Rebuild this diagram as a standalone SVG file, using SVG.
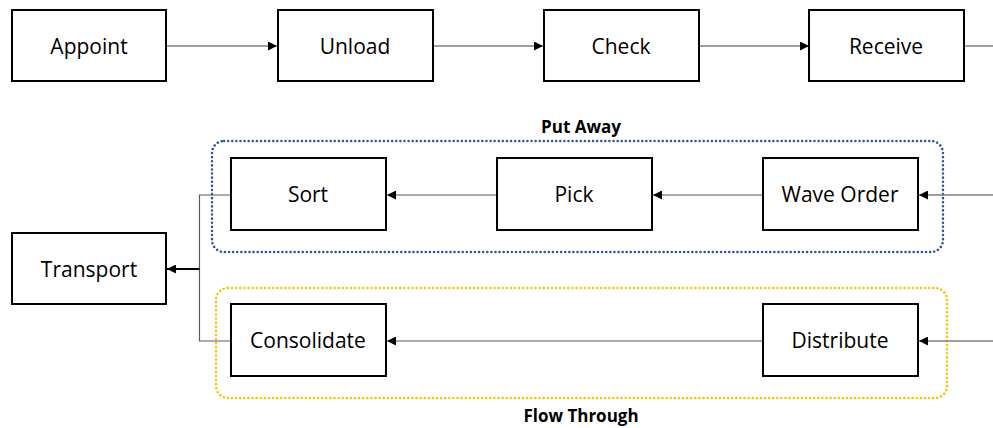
<svg xmlns="http://www.w3.org/2000/svg" width="993" height="428" viewBox="0 0 993 428">
  <style>
    .box { fill: #ffffff; stroke: #000000; stroke-width: 2; }
    .lbl { font-family: "Open Sans", "Noto Sans", sans-serif; font-size: 21px; fill: #000000; text-anchor: middle; dominant-baseline: central; }
    .title { font-family: "Open Sans", "Noto Sans", sans-serif; font-size: 17px; font-weight: bold; fill: #000000; text-anchor: middle; }
    .link { fill: none; stroke: #7f7f7f; stroke-width: 1.5; }
    .link2 { fill: none; stroke: #595959; stroke-width: 1.2; }
    .group-blue { fill: none; stroke: #2f5597; stroke-width: 2.5; stroke-dasharray: 0.1 4; stroke-linecap: round; }
    .group-yellow { fill: none; stroke: #ffc000; stroke-width: 2.5; stroke-dasharray: 0.1 4; stroke-linecap: round; }
  </style>
  <defs>
    <marker id="arrow" viewBox="0 0 10 10" refX="10" refY="5" markerWidth="9" markerHeight="9" markerUnits="userSpaceOnUse" orient="auto">
      <path d="M0,0 L10,5 L0,10 z" fill="#000000"/>
    </marker>
  </defs>

  <rect width="993" height="428" fill="#ffffff"/>

  <!-- grouping containers -->
  <g id="put-away">
    <rect class="group-blue" x="212" y="141" width="731" height="111" rx="12"/>
    <text class="title" x="581" y="133">Put Away</text>
  </g>
  <g id="flow-through">
    <rect class="group-yellow" x="216" y="288" width="731" height="110" rx="12"/>
    <text class="title" x="581" y="422">Flow Through</text>
  </g>

  <!-- connectors -->
  <g id="connectors">
    <line class="link" x1="167" y1="46" x2="277" y2="46" marker-end="url(#arrow)"/>
    <line class="link" x1="433" y1="46" x2="543" y2="46" marker-end="url(#arrow)"/>
    <line class="link" x1="699" y1="46" x2="809" y2="46" marker-end="url(#arrow)"/>
    <line class="link" x1="964" y1="46" x2="993" y2="46"/>

    <line class="link" x1="993" y1="195" x2="919" y2="195" marker-end="url(#arrow)"/>
    <line class="link2" x1="762" y1="195" x2="653" y2="195" marker-end="url(#arrow)"/>
    <line class="link2" x1="497" y1="195" x2="387" y2="195" marker-end="url(#arrow)"/>

    <line class="link" x1="993" y1="341" x2="919" y2="341" marker-end="url(#arrow)"/>
    <line class="link2" x1="762" y1="341" x2="387" y2="341" marker-end="url(#arrow)"/>

    <polyline class="link2" points="231,195 199.5,195 199.5,341 231,341"/>
    <line x1="199.5" y1="269" x2="167" y2="269" stroke="#000000" stroke-width="2" marker-end="url(#arrow)"/>
  </g>

  <!-- process steps -->
  <g id="appoint"><rect class="box" x="12" y="10" width="154" height="71"/><text class="lbl" x="89" y="46">Appoint</text></g>
  <g id="unload"><rect class="box" x="278" y="10" width="155" height="71"/><text class="lbl" x="355" y="46">Unload</text></g>
  <g id="check"><rect class="box" x="544" y="10" width="155" height="71"/><text class="lbl" x="621" y="46">Check</text></g>
  <g id="receive"><rect class="box" x="809" y="10" width="155" height="71"/><text class="lbl" x="886" y="46">Receive</text></g>

  <g id="sort"><rect class="box" x="231" y="158" width="155" height="72"/><text class="lbl" x="308" y="194">Sort</text></g>
  <g id="pick"><rect class="box" x="497" y="158" width="155" height="72"/><text class="lbl" x="574" y="194">Pick</text></g>
  <g id="wave-order"><rect class="box" x="763" y="158" width="155" height="72"/><text class="lbl" x="840" y="194">Wave Order</text></g>

  <g id="transport"><rect class="box" x="12" y="233" width="154" height="71"/><text class="lbl" x="89" y="269">Transport</text></g>

  <g id="consolidate"><rect class="box" x="231" y="304" width="155" height="72"/><text class="lbl" x="308" y="340">Consolidate</text></g>
  <g id="distribute"><rect class="box" x="763" y="304" width="155" height="72"/><text class="lbl" x="840" y="340">Distribute</text></g>
</svg>
